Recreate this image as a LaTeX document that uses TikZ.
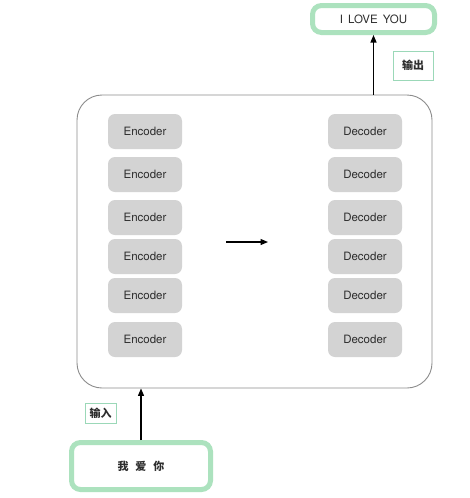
\documentclass[tikz,border=0pt]{standalone}
\usepackage{fontspec}
\setmainfont{TeX Gyre Heros}
\newfontfamily\cjk{Noto Sans CJK SC}
\usetikzlibrary{arrows.meta}
\definecolor{boxgray}{RGB}{211,211,211}
\definecolor{mint}{RGB}{172,226,190}
\definecolor{txt}{RGB}{45,45,45}
\begin{document}
\begin{tikzpicture}[x=1pt, y=-1pt, font=\fontsize{11.5}{13}\selectfont, text=txt,
    layer/.style={fill=boxgray, rounded corners=7pt, minimum width=74pt, minimum height=35pt, inner sep=0pt},
    io/.style={draw=mint, line width=5pt, rounded corners=9pt, inner sep=0pt},
    tag/.style={draw=mint!90!teal, line width=0.8pt, inner sep=0pt, font=\cjk\bfseries\fontsize{11}{13}\selectfont},
    flow/.style={line width=1.2pt, -{Triangle[length=7.5pt, width=6pt]}}]
    \useasboundingbox[fill=white] (0,0) rectangle (470,498);

    \node[draw=black!45, line width=0.9pt, rounded corners=25pt, minimum width=355pt, minimum height=293pt] (model) at (254.5, 241.5) {};

    \node[layer] (enc1) at (145, 131.5) {Encoder};
    \node[layer] (enc2) at (145, 174.5) {Encoder};
    \node[layer] (enc3) at (145, 217.5) {Encoder};
    \node[layer] (enc4) at (145, 256.5) {Encoder};
    \node[layer] (enc5) at (145, 295.5) {Encoder};
    \node[layer] (enc6) at (145, 339.5) {Encoder};

    \node[layer] (dec1) at (365, 131.5) {Decoder};
    \node[layer] (dec2) at (365, 174.5) {Decoder};
    \node[layer] (dec3) at (365, 217.5) {Decoder};
    \node[layer] (dec4) at (365, 256.5) {Decoder};
    \node[layer] (dec5) at (365, 295.5) {Decoder};
    \node[layer] (dec6) at (365, 339.5) {Decoder};

    \coordinate (pass in) at (226, 242);
    \coordinate (pass out) at (268, 242);
    \draw[flow] (pass in) -- (pass out);

    \node[io, minimum width=122pt, minimum height=27pt] (out) at (373.5, 19) {I\hspace{5pt}LOVE\hspace{5pt}YOU};
    \node[tag, minimum width=40pt, minimum height=29pt] (outtag) at (413, 65.5) {输出};
    \draw[flow] (out.south |- model.north) -- (out.south);

    \node[io, minimum width=139pt, minimum height=47pt, font=\cjk\bfseries\fontsize{11}{13}\selectfont] (in) at (141, 466) {我\hspace{7pt}爱\hspace{7pt}你};
    \node[tag, minimum width=31pt, minimum height=20pt] (intag) at (100.5, 413) {输入};
    \draw[flow] (in.north) -- (in.north |- model.south);
\end{tikzpicture}
\end{document}
